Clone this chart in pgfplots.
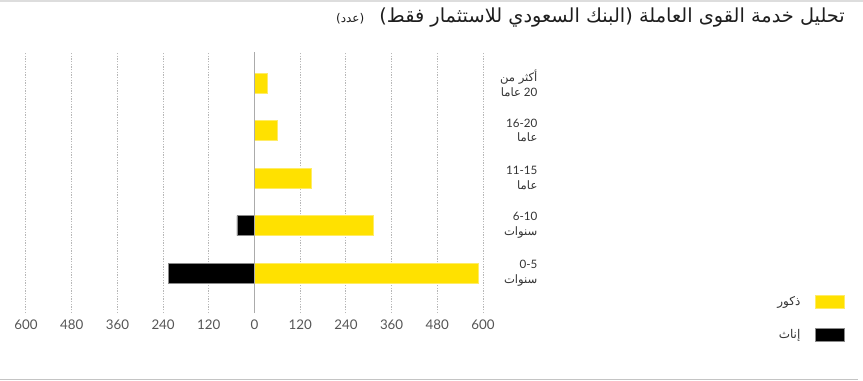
\documentclass[border=0pt]{standalone}
\usepackage{fontspec}
\setmainfont{Lato}
\newfontfamily\arabicfont[Script=Arabic]{DejaVu Sans}
\usepackage{pgfplots}
\pgfplotsset{compat=1.18}
\TeXXeTstate=1

\definecolor{males}{HTML}{FFE100}
\definecolor{malesedge}{HTML}{FFEC66}
\definecolor{femaleedge}{HTML}{8A8A8A}
\definecolor{gridgray}{HTML}{B8B8B8}
\definecolor{zeroline}{HTML}{ABABAB}
\definecolor{ticktext}{HTML}{555555}
\definecolor{labeltext}{HTML}{333333}
\definecolor{titletext}{HTML}{1E1E1E}
\definecolor{topline}{HTML}{DDDDDD}
\definecolor{bottomline}{HTML}{C4C4C4}

\pgfplotsset{
  swatch/.style={legend image code/.code={%
      \fill[##1] (0pt,-4.875pt) rectangle (21.75pt,4.875pt);}},
}

\begin{document}
\begin{tikzpicture}
\path[use as bounding box] (0,0) rectangle (647.25pt,285pt);
\draw[topline, line width=1.5pt] (0,284.25pt) -- (647.25pt,284.25pt);
\draw[bottomline, line width=0.9pt] (0,0.6pt) -- (643.5pt,0.6pt);

\node[anchor=base east, inner sep=0pt, text=titletext,
      font=\fontsize{14.5}{16}\selectfont] (title) at (633.75pt,268pt)
  {\arabicfont\beginR تحليل خدمة القوى العاملة (البنك السعودي للاستثمار فقط)\endR};
\node[anchor=base east, inner sep=0pt, text=titletext,
      font=\fontsize{9}{10}\selectfont] at ([xshift=-11pt]title.base west)
  {\arabicfont\beginR(عدد)\endR};

\begin{axis}[
  at={(19.5pt,50.25pt)}, anchor=south west,
  scale only axis, width=342.75pt, height=195.75pt,
  xmin=-600, xmax=600, ymin=-0.842, ymax=4.653,
  xbar, bar width=15pt, bar shift=0pt,
  axis line style={draw=none},
  major tick length=0pt,
  xtick={-600,-480,-360,-240,-120,0,120,240,360,480,600},
  xticklabels={600,480,360,240,120,0,120,240,360,480,600},
  xticklabel style={anchor=base, yshift=-12.2pt, text=ticktext,
                    font=\fontsize{10}{12}\selectfont},
  xmajorgrids,
  grid style={gridgray, line width=0.75pt, dash pattern=on 1pt off 1pt},
  ytick={0,1,2,3,4},
  yticklabels={
    {0-5\\{\arabicfont\beginR سنوات\endR}},
    {6-10\\{\arabicfont\beginR سنوات\endR}},
    {11-15\\{\arabicfont\beginR عاما\endR}},
    {16-20\\{\arabicfont\beginR عاما\endR}},
    {{\arabicfont\beginR أكثر من\endR}\\{\arabicfont\beginR عاما\endR} 20}},
  yticklabel pos=right,
  yticklabel style={anchor=east, inner sep=0pt, xshift=41pt, align=right,
                    text=labeltext, font=\fontsize{8.7}{11}\selectfont},
  legend style={at={(axis description cs:1.7921,0.0766)}, anchor=north east,
                draw=none, fill=none, inner sep=0pt, row sep=13pt,
                column sep=9pt,
                text=labeltext, font=\fontsize{9}{11}\selectfont},
  legend cell align=right,
  legend plot pos=right,
]
\addplot[fill=males, draw=malesedge, line width=0.5pt, swatch]
  coordinates {(587,0) (312,1) (150,2) (60,3) (34,4)};
\addlegendentry{\arabicfont\beginR ذكور\endR}
\addplot[fill=black, draw=femaleedge, line width=0.5pt, swatch]
  coordinates {(-226,0) (-46,1) (0,2) (0,3) (0,4)};
\addlegendentry{\arabicfont\beginR إناث\endR}
\draw[zeroline, line width=0.9pt] (axis cs:0,-0.842) -- (axis cs:0,4.653);
\end{axis}
\end{tikzpicture}
\end{document}
